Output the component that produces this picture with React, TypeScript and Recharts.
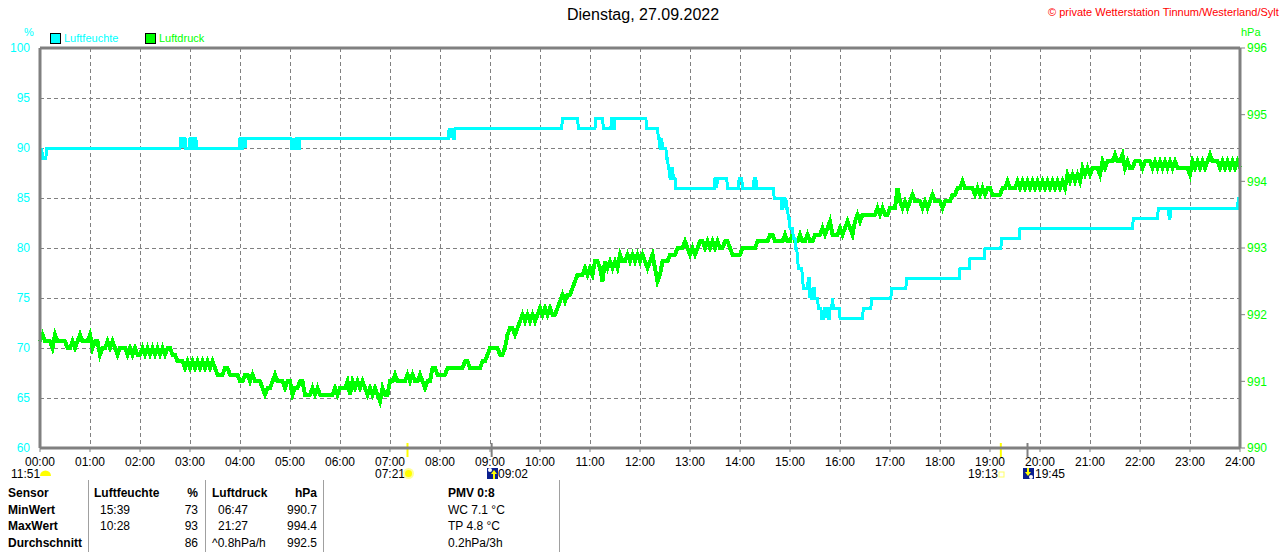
import React from "react";
import {
	CartesianGrid,
	Line,
	LineChart,
	ReferenceLine,
	XAxis,
	YAxis,
} from "recharts";

const FONT = '"Liberation Sans", Arial, sans-serif';
const CYAN = "#00ffff";
const GREEN = "#00ff00";
const GRAY = "#808080";

const hourTicks = Array.from({ length: 25 }, (_, i) => i * 60);
const humidityTicks = [60, 65, 70, 75, 80, 85, 90, 95, 100];
const pressureTicks = [990, 991, 992, 993, 994, 995, 996];

// [minute of day, %] - the sensor only reports whole percents, so these are the changes
const humidityChanges: [number, number][] = [
	[0, 90], [1, 89], [2, 90], [3, 89], [8, 90], [169, 91], [171, 90], [172, 91], [175, 90],
	[180, 91], [183, 90], [185, 91], [188, 90], [240, 91], [242, 90], [244, 91], [246, 90],
	[247, 91], [302, 90], [304, 91], [305, 90], [308, 91], [310, 90], [312, 91], [491, 92],
	[492, 91], [493, 92], [494, 91], [495, 92], [496, 91], [498, 92], [627, 93], [646, 92],
	[667, 93], [676, 92], [686, 93], [688, 92], [690, 93], [728, 92], [742, 91], [744, 90],
	[746, 91], [747, 90], [752, 89], [754, 88], [756, 87], [758, 88], [760, 87], [763, 86],
	[810, 87], [812, 86], [813, 87], [825, 86], [839, 87], [843, 86], [857, 87], [860, 86],
	[881, 85], [890, 84], [892, 85], [894, 84], [895, 85], [896, 84], [898, 83], [900, 82],
	[904, 81], [907, 80], [909, 79], [910, 78], [915, 77], [916, 76], [922, 77], [924, 75],
	[925, 76], [926, 75], [928, 76], [930, 75], [934, 74], [938, 73], [941, 74], [943, 73],
	[944, 74], [946, 73], [948, 74], [951, 75], [952, 74], [960, 73], [988, 74], [998, 75],
	[1022, 76], [1040, 77], [1104, 78], [1116, 79], [1134, 80], [1154, 81], [1176, 82],
	[1312, 83], [1342, 84], [1355, 83], [1357, 84], [1438, 85], [1440, 85],
];

// pressure in hPa, one reading every 3 minutes, split into 6 hour blocks
const pressureNight = [
	991.6, 991.7, 991.6, 991.6, 991.6, 991.5, 991.7, 991.6, 991.6, 991.6, 991.6, 991.5, 991.5, 991.6, 991.5, 991.6, 991.7, 991.6, 991.6, 991.6,
	991.7, 991.5, 991.6, 991.6, 991.4, 991.5, 991.5, 991.6, 991.5, 991.6, 991.5, 991.4, 991.5, 991.5, 991.5, 991.4, 991.5, 991.4, 991.5, 991.4,
	991.4, 991.5, 991.4, 991.5, 991.4, 991.5, 991.4, 991.5, 991.4, 991.5, 991.4, 991.5, 991.5, 991.4, 991.4, 991.3, 991.3, 991.3, 991.2, 991.3,
	991.2, 991.3, 991.2, 991.3, 991.2, 991.3, 991.2, 991.3, 991.2, 991.3, 991.2, 991.1, 991.1, 991.1, 991.2, 991.2, 991.1, 991.1, 991.1, 991.1,
	991.0, 991.0, 991.1, 991.1, 991.0, 991.1, 991.0, 991.0, 991.0, 990.9, 990.8, 990.9, 990.9, 991.0, 991.1, 991.0, 991.0, 991.0, 990.9, 991.0,
	991.0, 990.8, 990.9, 990.9, 991.0, 991.0, 990.8, 990.8, 990.8, 990.9, 990.8, 990.9, 990.8, 990.8, 990.8, 990.8, 990.8, 990.8, 990.9, 990.8,
];
const pressureMorning = [
	990.9, 990.9, 990.9, 991.0, 990.8, 991.0, 990.9, 991.0, 990.9, 991.0, 990.9, 990.8, 990.9, 990.8, 990.9, 990.8, 990.7, 990.9, 990.8, 990.8,
	991.0, 991.0, 991.1, 991.0, 991.0, 991.0, 991.0, 991.1, 991.0, 991.1, 991.0, 991.0, 991.1, 991.0, 990.9, 991.0, 991.0, 991.2, 991.2, 991.1,
	991.1, 991.1, 991.1, 991.2, 991.2, 991.2, 991.2, 991.2, 991.2, 991.2, 991.3, 991.3, 991.2, 991.2, 991.2, 991.2, 991.2, 991.3, 991.3, 991.4,
	991.5, 991.5, 991.5, 991.5, 991.4, 991.4, 991.5, 991.7, 991.8, 991.8, 991.7, 991.8, 991.9, 992.0, 991.9, 992.0, 991.9, 992.0, 991.9, 992.0,
	992.1, 992.0, 992.1, 992.0, 992.1, 992.0, 992.0, 992.1, 992.2, 992.3, 992.2, 992.3, 992.3, 992.4, 992.5, 992.6, 992.6, 992.6, 992.7, 992.6,
	992.7, 992.6, 992.8, 992.8, 992.7, 992.5, 992.8, 992.7, 992.8, 992.7, 992.8, 992.7, 992.9, 992.8, 992.8, 992.9, 992.8, 992.9, 992.8, 992.9,
];
const pressureAfternoon = [
	992.8, 992.9, 992.8, 992.7, 992.8, 992.9, 992.7, 992.5, 992.6, 992.8, 992.8, 992.8, 992.9, 992.9, 992.9, 993.0, 993.0, 993.0, 993.1, 993.0,
	992.9, 993.0, 992.9, 993.0, 993.1, 993.1, 993.0, 993.1, 993.0, 993.1, 993.0, 993.1, 993.0, 993.0, 993.1, 993.1, 993.0, 992.9, 992.9, 992.9,
	992.9, 993.0, 993.0, 993.0, 993.0, 993.0, 993.0, 993.1, 993.1, 993.1, 993.1, 993.1, 993.2, 993.2, 993.1, 993.1, 993.1, 993.1, 993.2, 993.1,
	993.1, 993.2, 993.1, 993.1, 993.2, 993.1, 993.1, 993.2, 993.1, 993.1, 993.2, 993.2, 993.2, 993.3, 993.2, 993.3, 993.4, 993.2, 993.2, 993.2,
	993.3, 993.2, 993.3, 993.4, 993.3, 993.2, 993.4, 993.5, 993.4, 993.5, 993.5, 993.5, 993.5, 993.5, 993.5, 993.6, 993.5, 993.6, 993.5, 993.5,
	993.6, 993.6, 993.6, 993.9, 993.7, 993.6, 993.7, 993.6, 993.7, 993.8, 993.7, 993.7, 993.7, 993.6, 993.7, 993.6, 993.7, 993.8, 993.7, 993.7,
];
const pressureEvening = [
	993.7, 993.6, 993.7, 993.7, 993.7, 993.8, 993.8, 993.9, 993.9, 994.0, 993.9, 993.9, 993.9, 993.9, 993.8, 993.9, 993.8, 993.9, 993.8, 993.9,
	993.9, 993.8, 993.8, 993.8, 993.8, 993.9, 993.9, 994.0, 993.9, 993.9, 993.9, 994.0, 993.9, 994.0, 993.9, 994.0, 993.9, 994.0, 993.9, 994.0,
	993.9, 994.0, 993.9, 994.0, 993.9, 994.0, 993.9, 994.0, 993.9, 994.0, 993.9, 994.1, 994.0, 994.1, 994.0, 994.1, 994.0, 994.2, 994.1, 994.2,
	994.1, 994.2, 994.2, 994.2, 994.1, 994.3, 994.2, 994.3, 994.3, 994.3, 994.4, 994.3, 994.3, 994.4, 994.2, 994.3, 994.2, 994.2, 994.3, 994.3,
	994.3, 994.2, 994.3, 994.3, 994.3, 994.2, 994.3, 994.2, 994.3, 994.2, 994.3, 994.2, 994.3, 994.2, 994.3, 994.2, 994.2, 994.2, 994.2, 994.2,
	994.1, 994.3, 994.2, 994.3, 994.2, 994.3, 994.2, 994.3, 994.4, 994.3, 994.3, 994.3, 994.2, 994.3, 994.2, 994.3, 994.2, 994.3, 994.2, 994.3,
	994.2,
];
const pressureReadings = [...pressureNight, ...pressureMorning, ...pressureAfternoon, ...pressureEvening];

const sunriseMinute = 441;
const sunsetMinute = 1153;
const moonriseMinute = 542;
const moonsetMinute = 1185;

const sensorLabels = ["Sensor", "MinWert", "MaxWert", "Durchschnitt"];
const humidityTimes = ["Luftfeuchte", "15:39", "10:28", ""];
const humidityValues = ["%", "73", "93", "86"];
const pressureTimes = ["Luftdruck", "06:47", "21:27", "^0.8hPa/h"];
const pressureValues = ["hPa", "990.7", "994.4", "992.5"];
const pmvLines = ["PMV 0:8", "WC 7.1 °C", "TP 4.8 °C", "0.2hPa/3h"];

interface Row {
	t: number;
	humidity?: number;
	pressure?: number;
}

const buildRows = (): Row[] => {
	const rows = new Map<number, Row>();
	const rowAt = (t: number): Row => {
		if (!rows.has(t)) {
			rows.set(t, { t });
		}
		return rows.get(t)!;
	};
	pressureReadings.forEach((value, i) => {
		rowAt(i * 3).pressure = value;
	});
	// hold the old value until one minute before each change, the station draws a plain polyline
	humidityChanges.forEach(([t, value], i) => {
		if (i > 0 && humidityChanges[i - 1][0] < t - 1) {
			rowAt(t - 1).humidity = humidityChanges[i - 1][1];
		}
		rowAt(t).humidity = value;
	});
	return [...rows.values()].sort((a, b) => a.t - b.t);
};

const formatHour = (minute: number): string =>
	`${String(minute / 60).padStart(2, "0")}:00`;

const Txt = (props: {
	x: number;
	y: number;
	color?: string;
	bold?: boolean;
	size?: number;
	right?: boolean;
	children: React.ReactNode;
}): React.ReactElement => (
	<div
		style={{
			position: "absolute",
			top: props.y - 8,
			height: 16,
			lineHeight: "16px",
			whiteSpace: "pre",
			fontSize: props.size ?? 12,
			fontWeight: props.bold ? 700 : 400,
			color: props.color ?? "#000",
			...(props.right ? { right: 1280 - props.x } : { left: props.x }),
		}}
	>
		{props.children}
	</div>
);

const Swatch = (props: { x: number; color: string }): React.ReactElement => (
	<div
		style={{
			position: "absolute",
			left: props.x,
			top: 33,
			boxSizing: "border-box",
			width: 11,
			height: 11,
			background: props.color,
			border: "1px solid #000",
		}}
	/>
);

const MoonIcon = (props: { x: number; up: boolean }): React.ReactElement => (
	<svg
		width={11}
		height={11}
		style={{ position: "absolute", left: props.x, top: 468 }}
	>
		<rect width={11} height={11} fill="#0a1f8f" />
		<circle cx={props.up ? 3 : 8} cy={props.up ? 2 : 9} r={2} fill="#fff" />
		<path
			d={props.up ? "M7 2 L10 6 L8 6 L8 11 L6 11 L6 6 L4 6 Z" : "M4 0 L6 0 L6 4 L8 4 L5 8 L2 4 L4 4 Z"}
			fill="#ffff00"
		/>
	</svg>
);

export default function App(): React.ReactElement {
	const rows = buildRows();
	return (
		<div
			style={{
				position: "absolute",
				left: 0,
				top: 0,
				width: 1280,
				height: 552,
				background: "#fff",
				overflow: "hidden",
				fontFamily: FONT,
			}}
		>
			<LineChart
				width={1280}
				height={552}
				data={rows}
				margin={{ top: 48, right: 0, bottom: 74, left: 0 }}
				style={{ position: "absolute", left: 0, top: 0 }}
			>
				<CartesianGrid
					xAxisId="time"
					yAxisId="hum"
					stroke={GRAY}
					strokeDasharray="4 3"
					shapeRendering="crispEdges"
					verticalValues={hourTicks}
					horizontalValues={humidityTicks}
				/>
				<XAxis
					xAxisId="time"
					dataKey="t"
					type="number"
					domain={[0, 1440]}
					ticks={hourTicks}
					interval={0}
					height={30}
					tickFormatter={formatHour}
					tick={{ fill: "#000", fontSize: 12, fontFamily: FONT }}
					tickSize={4}
					tickMargin={5}
					tickLine={{ stroke: GRAY }}
					axisLine={{ stroke: GRAY, strokeWidth: 3 }}
				/>
				<YAxis
					yAxisId="hum"
					orientation="left"
					width={40}
					domain={[60, 100]}
					ticks={humidityTicks}
					interval={0}
					tick={{ fill: CYAN, fontSize: 12, fontFamily: FONT }}
					tickLine={false}
					tickMargin={4}
					axisLine={{ stroke: GRAY, strokeWidth: 3 }}
				/>
				<YAxis
					yAxisId="press"
					orientation="right"
					width={40}
					domain={[990, 996]}
					ticks={pressureTicks}
					interval={0}
					tick={{ fill: GREEN, fontSize: 12, fontFamily: FONT }}
					tickSize={5}
					tickMargin={2}
					tickLine={{ stroke: GRAY }}
					axisLine={{ stroke: GRAY, strokeWidth: 3 }}
				/>
				<ReferenceLine xAxisId="time" yAxisId="hum" y={100} stroke={GRAY} strokeWidth={3} />
				<Line
					xAxisId="time"
					yAxisId="press"
					type="linear"
					dataKey="pressure"
					connectNulls
					stroke={GREEN}
					strokeWidth={4}
					strokeLinejoin="miter"
					shapeRendering="crispEdges"
					dot={false}
					isAnimationActive={false}
				/>
				<Line
					xAxisId="time"
					yAxisId="hum"
					type="linear"
					dataKey="humidity"
					connectNulls
					stroke={CYAN}
					strokeWidth={3}
					shapeRendering="crispEdges"
					dot={false}
					isAnimationActive={false}
				/>
				{[sunriseMinute, sunsetMinute].map((t) => (
					<ReferenceLine
						key={t}
						xAxisId="time"
						yAxisId="hum"
						ifOverflow="visible"
						segment={[{ x: t, y: 60.5 }, { x: t, y: 59.1 }]}
						stroke="#ffff00"
						strokeWidth={2}
					/>
				))}
				{[moonriseMinute, moonsetMinute].map((t) => (
					<ReferenceLine
						key={t}
						xAxisId="time"
						yAxisId="hum"
						ifOverflow="visible"
						segment={[{ x: t, y: 60.5 }, { x: t, y: 59.1 }]}
						stroke={GRAY}
						strokeWidth={2}
					/>
				))}
			</LineChart>

			<Txt x={567} y={15} size={16}>Dienstag, 27.09.2022</Txt>
			<Txt x={1048} y={12} size={11} color="#ff0000">© private Wetterstation Tinnum/Westerland/Sylt</Txt>
			<Txt x={24} y={32} size={11} color={CYAN}>%</Txt>
			<Txt x={1241} y={32} size={11} color={GREEN}>hPa</Txt>

			<Swatch x={50} color={CYAN} />
			<Txt x={64} y={38} size={11} color={CYAN}>Luftfeuchte</Txt>
			<Swatch x={145} color={GREEN} />
			<Txt x={159} y={38} size={11} color={GREEN}>Luftdruck</Txt>

			<Txt x={11} y={474}>11:51</Txt>
			<svg width={11} height={6} style={{ position: "absolute", left: 40, top: 470 }}>
				<path d="M0 6 A5.5 5.5 0 0 1 11 6 Z" fill="#ffff00" />
			</svg>
			<Txt x={375} y={474}>07:21</Txt>
			<svg width={11} height={11} style={{ position: "absolute", left: 403, top: 468 }}>
				<circle cx={5.5} cy={5.5} r={5.5} fill="#ffff99" />
				<circle cx={5.5} cy={5.5} r={3.5} fill="#ffff00" />
			</svg>
			<MoonIcon x={487} up />
			<Txt x={498} y={474}>09:02</Txt>
			<Txt x={968} y={474}>19:13</Txt>
			<svg width={7} height={7} style={{ position: "absolute", left: 998, top: 471 }}>
				<rect x={1} y={1} width={5} height={5} fill="#fff" stroke="#ffff66" strokeWidth={1} />
			</svg>
			<MoonIcon x={1023} up={false} />
			<Txt x={1035} y={474}>19:45</Txt>

			{[88, 205, 323, 559].map((x) => (
				<div
					key={x}
					style={{ position: "absolute", left: x, top: 480, width: 1, height: 72, background: "#a0a0a0" }}
				/>
			))}
			{sensorLabels.map((label, i) => (
				<Txt key={label} x={8} y={493 + i * 16.6} bold>{label}</Txt>
			))}
			{humidityTimes.map((label, i) => (
				<Txt key={i} x={i === 0 ? 94 : 100} y={493 + i * 16.6} bold={i === 0}>{label}</Txt>
			))}
			{humidityValues.map((label, i) => (
				<Txt key={i} x={198} y={493 + i * 16.6} right bold={i === 0}>{label}</Txt>
			))}
			{pressureTimes.map((label, i) => (
				<Txt key={i} x={i === 1 || i === 2 ? 218 : 212} y={493 + i * 16.6} bold={i === 0}>{label}</Txt>
			))}
			{pressureValues.map((label, i) => (
				<Txt key={i} x={317} y={493 + i * 16.6} right bold={i === 0}>{label}</Txt>
			))}
			{pmvLines.map((label, i) => (
				<Txt key={i} x={448} y={493 + i * 16.6} bold={i === 0}>{label}</Txt>
			))}
		</div>
	);
}
